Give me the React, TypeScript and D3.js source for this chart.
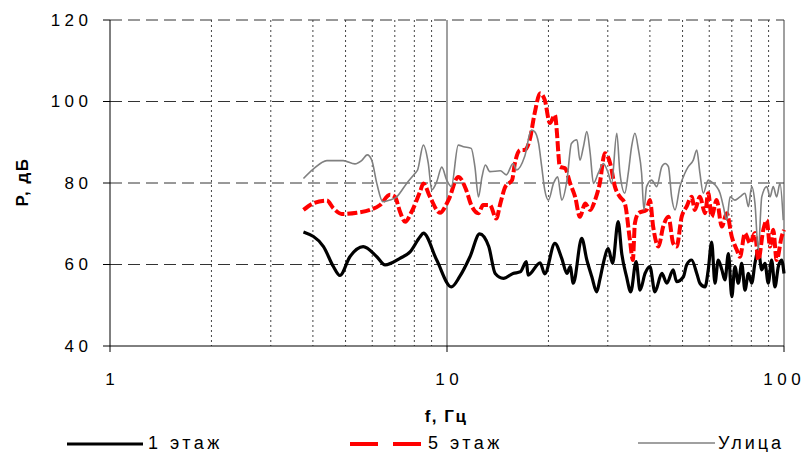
import React from "react";
import * as d3 from "d3";

// спектры давления, f (Гц) и уровень (дБ)
const floor1Freq = [3.75, 4.3, 4.6, 4.81, 5.15, 5.64, 6.19, 6.55, 7.25, 7.77, 8.32, 8.51, 9.32, 10.3, 10.9, 11.7, 12.5, 13.3, 13.9, 14.7, 15.7, 16.5, 17.2, 17.4, 18.9, 19.5, 20.9, 21.9, 22.7, 23.2, 23.7, 25.1, 26.0, 26.9, 27.8, 28.4, 29.1, 30.1, 31.0, 32.2, 33.0, 34.1, 35.1, 36.4, 37.4, 38.7, 40.0, 41.4, 43.4, 44.9, 46.9, 48.0, 50.3, 51.4, 53.2, 55.1, 56.3, 58.3, 59.6, 61.0, 62.4, 63.8, 65.4, 66.8, 68.4, 70.0, 71.5, 73.2, 74.9, 76.6, 78.4, 80.2, 82.0, 83.9, 85.9, 87.8, 89.8, 91.9, 94.0, 96.2, 98.4, 100];
const floor1Db = [68.0, 64.4, 59.5, 57.3, 61.9, 64.4, 61.9, 59.9, 61.5, 63.1, 66.8, 67.7, 61.1, 54.5, 57.0, 61.9, 67.5, 64.4, 57.8, 56.6, 57.8, 58.2, 60.7, 57.4, 60.4, 57.7, 65.2, 61.5, 57.8, 59.5, 55.4, 66.4, 61.1, 57.0, 53.3, 56.2, 60.3, 63.9, 60.3, 70.5, 62.7, 57.0, 53.3, 60.7, 53.7, 57.8, 59.5, 53.3, 57.8, 55.4, 58.7, 55.8, 57.0, 59.9, 61.1, 57.8, 55.4, 54.5, 58.7, 65.5, 55.4, 61.1, 58.7, 56.2, 62.7, 52.1, 59.5, 55.4, 60.3, 53.7, 57.8, 55.4, 60.3, 63.6, 58.7, 60.3, 55.4, 61.1, 54.5, 59.5, 61.1, 57.8];

const floor5Freq = [3.75, 4.01, 4.4, 4.6, 4.87, 5.4, 5.91, 6.33, 6.77, 7.01, 7.25, 7.51, 7.86, 8.32, 8.51, 8.9, 9.53, 10.1, 10.8, 11.4, 11.8, 12.4, 12.8, 13.4, 14.0, 14.4, 14.9, 15.6, 15.9, 16.5, 17.0, 17.6, 18.2, 18.9, 19.5, 20.2, 20.9, 21.2, 21.4, 21.6, 22.4, 23.2, 24.0, 24.8, 25.7, 26.6, 27.5, 28.4, 29.4, 30.5, 31.5, 32.6, 33.7, 34.9, 35.6, 36.1, 37.0, 39.1, 40.0, 40.9, 42.4, 43.8, 45.4, 46.9, 48.0, 49.7, 51.4, 53.2, 54.4, 56.3, 58.3, 59.6, 61.0, 63.1, 65.4, 67.6, 70.0, 72.4, 74.0, 76.6, 79.3, 82.0, 83.9, 86.8, 88.9, 90.9, 92.9, 95.1, 98.4, 100];
const floor5Db = [73.4, 75.0, 75.7, 73.8, 72.4, 72.7, 73.4, 74.6, 77.1, 76.6, 73.0, 70.5, 73.0, 77.9, 79.9, 76.6, 72.7, 75.8, 81.5, 78.3, 74.6, 72.6, 74.6, 74.6, 71.3, 75.0, 79.1, 80.7, 84.8, 88.1, 88.1, 90.6, 97.1, 102.0, 100.4, 94.7, 96.7, 92.2, 87.3, 84.0, 83.6, 79.9, 76.6, 71.7, 75.0, 73.4, 75.8, 79.9, 87.3, 84.8, 79.1, 76.6, 75.0, 66.0, 61.1, 70.1, 72.6, 73.4, 75.8, 69.3, 64.4, 69.3, 71.7, 65.2, 64.4, 71.7, 74.2, 76.6, 73.4, 76.6, 72.6, 77.5, 71.7, 75.8, 69.3, 72.6, 66.8, 63.6, 61.9, 67.7, 65.2, 67.7, 61.1, 68.5, 70.9, 64.4, 68.5, 61.1, 66.8, 68.5];

const streetFreq = [3.75, 4.01, 4.4, 4.92, 5.33, 5.58, 5.8, 5.98, 6.19, 6.45, 6.77, 7.09, 7.59, 8.04, 8.18, 8.51, 8.8, 9.01, 9.32, 9.65, 9.98, 10.3, 10.8, 11.2, 11.8, 12.1, 12.4, 12.7, 13.0, 13.4, 14.4, 15.0, 15.7, 16.1, 17.0, 17.8, 18.2, 18.7, 19.1, 19.5, 20.0, 20.7, 21.3, 21.9, 22.7, 23.4, 24.3, 24.8, 25.4, 26.0, 26.6, 27.2, 28.1, 29.1, 30.1, 30.8, 31.9, 32.6, 33.7, 34.5, 35.3, 36.1, 37.0, 37.8, 38.4, 39.1, 40.5, 41.9, 43.4, 44.4, 45.4, 46.4, 47.5, 49.1, 50.8, 52.0, 53.8, 55.1, 56.3, 57.6, 59.6, 61.7, 63.1, 64.6, 66.1, 67.6, 69.2, 71.5, 74.0, 76.6, 78.4, 80.2, 82.0, 83.9, 85.9, 88.9, 90.9, 92.9, 95.1, 97.3, 99.5];
const streetDb = [81.1, 83.4, 85.5, 85.5, 84.7, 85.5, 86.9, 85.6, 79.9, 75.4, 75.8, 76.6, 79.9, 82.4, 83.2, 89.3, 84.8, 78.3, 80.3, 83.9, 80.7, 79.1, 89.3, 88.9, 88.5, 84.0, 76.6, 81.5, 84.4, 82.8, 83.0, 82.0, 84.8, 83.2, 86.5, 93.0, 92.6, 89.7, 84.0, 78.3, 75.8, 79.9, 81.5, 75.8, 80.7, 89.7, 90.6, 85.6, 88.9, 92.6, 87.3, 79.9, 82.4, 84.8, 82.4, 79.9, 92.2, 82.4, 77.5, 82.4, 88.9, 92.2, 88.1, 82.4, 73.4, 79.1, 80.7, 79.1, 84.0, 84.8, 84.0, 76.6, 73.4, 79.1, 82.4, 84.0, 85.6, 88.1, 82.4, 77.5, 80.7, 79.9, 79.1, 77.5, 74.2, 70.9, 76.6, 75.8, 76.6, 77.5, 74.2, 79.1, 75.0, 63.6, 76.6, 79.1, 76.6, 79.1, 76.6, 79.9, 70.9];

const yTicks = [40, 60, 80, 100, 120];
const xMajor = [1, 10, 100];
const xMinor = [2, 3, 4, 5, 6, 7, 8, 9, 20, 30, 40, 50, 60, 70, 80, 90];

const FONT = "'Liberation Sans', Arial, sans-serif";

export default function App() {
  const left = 110, right = 784, top = 20, bottom = 346;
  const x = d3.scaleLog().domain([1, 100]).range([left, right]);
  const y = d3.scaleLinear().domain([40, 120]).range([bottom, top]);

  const line = d3
    .line<[number, number]>()
    .x((d) => x(d[0]))
    .y((d) => y(d[1]))
    .curve(d3.curveMonotoneX);

  const zip = (f: number[], v: number[]) => f.map((ff, i) => [ff, v[i]] as [number, number]);

  const ls = 4.5; // разрядка цифр на осях

  return (
    <svg
      width={805}
      height={452}
      style={{ position: "absolute", left: 0, top: 0, background: "#fff" }}
      fontFamily={FONT}
    >
      {/* вертикальная пунктирная сетка */}
      {xMinor.map((f) => (
        <line key={f} x1={x(f)} x2={x(f)} y1={top} y2={bottom} stroke="#444" strokeWidth={1} strokeDasharray="2 3" />
      ))}
      <line x1={x(10)} x2={x(10)} y1={top} y2={bottom} stroke="#808080" strokeWidth={1.5} />
      <line x1={x(100)} x2={x(100)} y1={top} y2={bottom} stroke="#808080" strokeWidth={1.5} />

      {/* горизонтальные штриховые линии */}
      {yTicks.slice(1).map((t) => (
        <line key={t} x1={left} x2={right} y1={y(t)} y2={y(t)} stroke="#333" strokeWidth={1} strokeDasharray="12 6" />
      ))}

      {/* оси */}
      <line x1={left} x2={left} y1={top} y2={bottom} stroke="#000" strokeWidth={1} />
      <line x1={left} x2={right} y1={bottom} y2={bottom} stroke="#000" strokeWidth={1} />
      {yTicks.map((t) => (
        <g key={t}>
          <line x1={left - 7} x2={left} y1={y(t)} y2={y(t)} stroke="#000" />
          <text
            x={88 + ls}
            y={y(t)}
            textAnchor="end"
            dominantBaseline="central"
            fontSize={17}
            letterSpacing={ls}
          >
            {t}
          </text>
        </g>
      ))}
      {xMajor.map((f) => (
        <g key={f}>
          <line x1={x(f)} x2={x(f)} y1={bottom} y2={bottom + 6} stroke="#000" />
          <text x={x(f) + ls / 2 - (f === 100 ? 2 : 0)} y={385} textAnchor="middle" fontSize={17} letterSpacing={ls}>
            {f}
          </text>
        </g>
      ))}

      {/* подписи осей */}
      <text x={446} y={422} textAnchor="middle" fontSize={17} fontWeight="bold" letterSpacing={1.5}>
        f, Гц
      </text>
      <text
        transform="translate(28,182) rotate(-90)"
        textAnchor="middle"
        fontSize={17}
        fontWeight="bold"
        letterSpacing={1.5}
      >
        P, дБ
      </text>

      {/* кривые */}
      <path d={line(zip(floor1Freq, floor1Db)) ?? ""} fill="none" stroke="#000" strokeWidth={3.2} strokeLinejoin="round" />
      <path
        d={line(zip(floor5Freq, floor5Db)) ?? ""}
        fill="none"
        stroke="#ff0000"
        strokeWidth={4}
        strokeDasharray="10 3"
        strokeLinejoin="round"
      />
      <path d={line(zip(streetFreq, streetDb)) ?? ""} fill="none" stroke="#808080" strokeWidth={1.6} strokeLinejoin="round" />

      {/* легенда */}
      <line x1={67} x2={143} y1={444} y2={444} stroke="#000" strokeWidth={3} />
      <text x={148} y={449} fontSize={18} letterSpacing={3.5}>
        1 этаж
      </text>
      <line x1={350} x2={423} y1={444} y2={444} stroke="#ff0000" strokeWidth={4} strokeDasharray="28 15" />
      <text x={428} y={449} fontSize={18} letterSpacing={3.5}>
        5 этаж
      </text>
      <line x1={638} x2={715} y1={443} y2={443} stroke="#808080" strokeWidth={1.6} />
      <text x={718} y={449} fontSize={18} letterSpacing={3}>
        Улица
      </text>
    </svg>
  );
}
